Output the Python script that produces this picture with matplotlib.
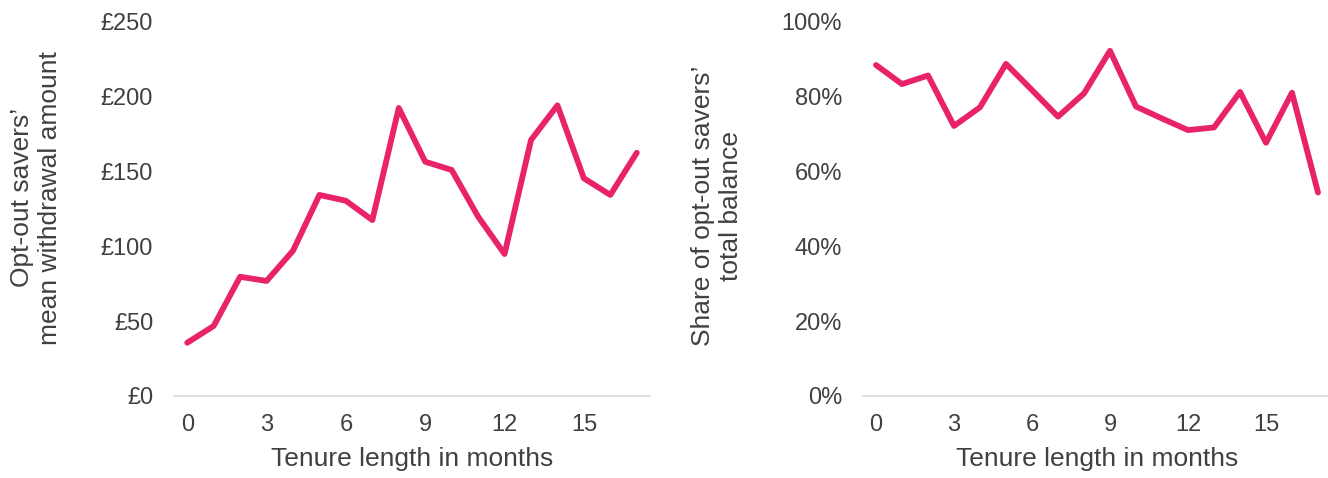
import numpy as np
import matplotlib
matplotlib.use('Agg')
import matplotlib.pyplot as plt
from matplotlib.ticker import FuncFormatter

plt.rcParams['font.family'] = ['Liberation Sans', 'DejaVu Sans']

# Tenure in months and the two series per month
months = list(range(18))
mean_withdrawal = [35.6, 46.8, 79.7, 76.9, 97.1, 134.4, 130.5, 117.6, 192.5,
                   156.6, 151.1, 119.9, 94.9, 171.1, 194.3, 145.5, 134.4, 162.6]
balance_share = [88.5, 83.4, 85.7, 72.2, 77.2, 88.8, 81.8, 74.7, 80.9,
                 92.3, 77.4, 74.2, 71.1, 71.8, 81.3, 67.7, 81.1, 54.4]

xticks = [0, 3, 6, 9, 12, 15]
left_yticks = [0, 50, 100, 150, 200, 250]
right_yticks = [0, 20, 40, 60, 80, 100]

line_color = '#E8236A'
text_color = '#404040'
axis_color = '#D9D9D9'

W, H = 1328, 478
fig = plt.figure(figsize=(W / 100, H / 100), dpi=100)

ax1 = fig.add_axes([174 / W, 82 / H, 476 / W, 374 / H])
ax2 = fig.add_axes([863 / W, 82 / H, 468 / W, 374 / H])


def style_axis(ax):
    for side in ['left', 'right', 'top']:
        ax.spines[side].set_visible(False)
    ax.spines['bottom'].set_color(axis_color)
    ax.spines['bottom'].set_linewidth(1.2)
    ax.set_xlim(-0.5, 17.5)
    ax.set_xticks(xticks)
    ax.tick_params(axis='both', length=0, labelsize=17, colors=text_color)
    ax.tick_params(axis='y', pad=15)
    ax.tick_params(axis='x', pad=13)
    ax.set_xlabel('Tenure length in months', fontsize=19, color=text_color, labelpad=8)


ax1.plot(months, mean_withdrawal, color=line_color, linewidth=4.2,
         solid_capstyle='round', solid_joinstyle='round')
style_axis(ax1)
ax1.set_ylim(0, 250)
ax1.set_yticks(left_yticks)
ax1.yaxis.set_major_formatter(FuncFormatter(lambda v, p: f'£{v:.0f}'))
ax1.set_ylabel('Opt-out savers’\nmean withdrawal amount', fontsize=19,
               color=text_color, linespacing=1.2, va='center')
ax1.yaxis.set_label_coords(-0.29, 0.53)

ax2.plot(months, balance_share, color=line_color, linewidth=4.2,
         solid_capstyle='round', solid_joinstyle='round')
style_axis(ax2)
ax2.set_ylim(0, 100)
ax2.set_yticks(right_yticks)
ax2.yaxis.set_major_formatter(FuncFormatter(lambda v, p: f'{v:.0f}%'))
ax2.set_ylabel('Share of opt-out savers’\ntotal balance', fontsize=19,
               color=text_color, linespacing=1.2, va='center')
ax2.yaxis.set_label_coords(-0.312, 0.508)

fig.savefig('out.png', dpi=100, facecolor='white')
